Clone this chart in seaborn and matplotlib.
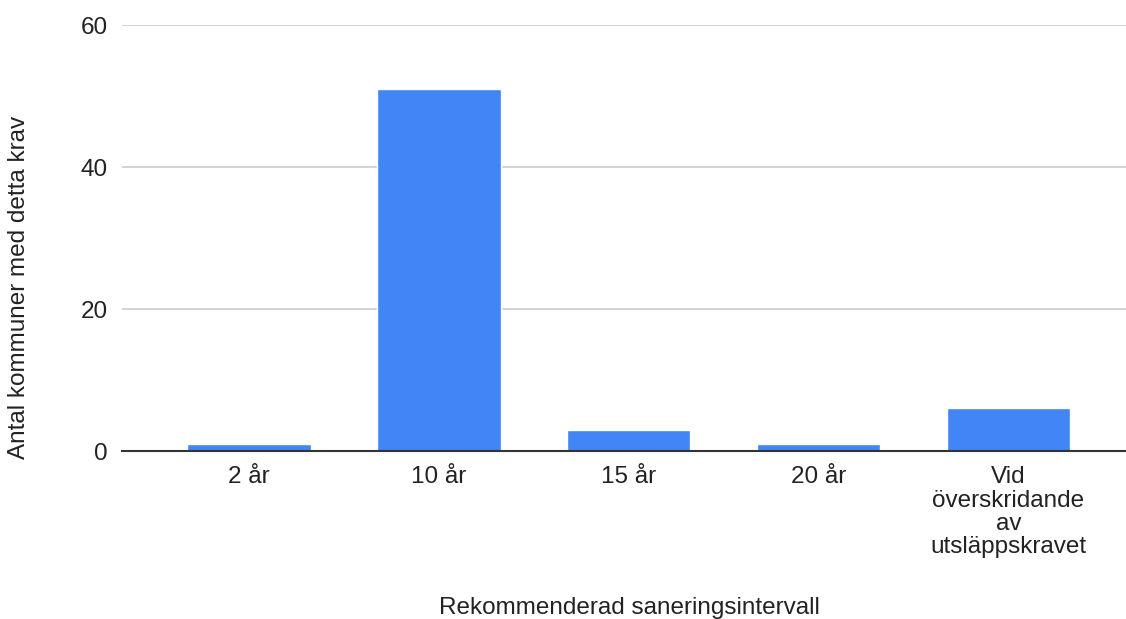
import pandas as pd
import seaborn as sns
import matplotlib.pyplot as plt

# data
kategorier = ['2 år', '10 år', '15 år', '20 år', 'Vid\növerskridande\nav\nutsläppskravet']
antal = [1, 51, 3, 1, 6]

df = pd.DataFrame({'intervall': kategorier, 'antal': antal})

sns.set_style('white')
plt.rcParams['font.family'] = ['Liberation Sans', 'DejaVu Sans']

fig = plt.figure(figsize=(11.26, 6.19), dpi=100)
ax = fig.add_axes([122 / 1126, 1 - 451 / 619, 1 - 122 / 1126, (451 - 25) / 619])

sns.barplot(x='intervall', y='antal', data=df, color='#4285F4', width=0.65,
            saturation=1, ax=ax, zorder=3)

ax.set_ylim(0, 60)
ax.set_xlim(-0.67, 4.62)
ax.set_yticks([0, 20, 40, 60])
ax.yaxis.grid(True, color='#cccccc', linewidth=1.2, zorder=0)
sns.despine(ax=ax, left=True, top=True, right=True)
ax.spines['bottom'].set_color('#333333')
ax.spines['bottom'].set_linewidth(1.5)
ax.spines['bottom'].set_zorder(4)

ax.tick_params(axis='both', length=0, labelsize=17.5, labelcolor='#222222')
ax.tick_params(axis='x', pad=11)
ax.tick_params(axis='y', pad=10)
for lbl in ax.get_xticklabels():
    lbl.set_linespacing(1.08)

ax.set_xlabel('Rekommenderad saneringsintervall', fontsize=17.5, color='#222222')
ax.set_ylabel('Antal kommuner med detta krav', fontsize=17.5, color='#222222')
ax.xaxis.set_label_coords(0.505, -0.343)
ax.yaxis.set_label_coords(-0.092, 0.383)
ax.xaxis.label.set_va('top')

fig.savefig('out.png', dpi=100)
